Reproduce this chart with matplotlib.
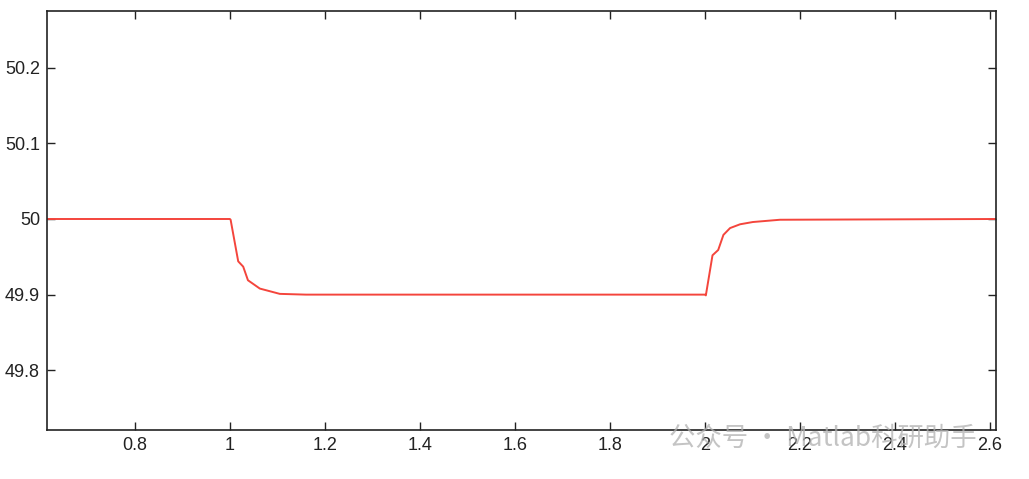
import matplotlib.pyplot as plt

plt.rcParams['font.family'] = ['Liberation Sans', 'Noto Sans CJK SC', 'DejaVu Sans']

# frequency trace (time in s, frequency in Hz)
time_s = [0.615, 1.0, 1.0015, 1.0175, 1.028, 1.038, 1.063, 1.105, 1.16,
          2.0, 2.002, 2.016, 2.028, 2.039, 2.053, 2.074, 2.101, 2.158, 2.613]
freq_hz = [50.0, 50.0, 49.999, 49.944, 49.937, 49.919, 49.908, 49.901, 49.9,
           49.9, 49.899, 49.952, 49.959, 49.979, 49.988, 49.993, 49.996, 49.999, 50.0]

x_ticks = [0.8, 1, 1.2, 1.4, 1.6, 1.8, 2, 2.2, 2.4, 2.6]
x_labels = ['0.8', '1', '1.2', '1.4', '1.6', '1.8', '2', '2.2', '2.4', '2.6']
y_ticks = [49.8, 49.9, 50, 50.1, 50.2]
y_labels = ['49.8', '49.9', '50', '50.1', '50.2']

fig = plt.figure(figsize=(10.29, 4.79), dpi=100)
ax = fig.add_axes([0.0457, 0.1023, 0.9223, 0.8747])
ax.plot(time_s, freq_hz, color='#f4453c', linewidth=1.4)

ax.set_xlim(0.615, 2.613)
ax.set_ylim(49.721, 50.275)
ax.set_xticks(x_ticks)
ax.set_xticklabels(x_labels)
ax.set_yticks(y_ticks)
ax.set_yticklabels(y_labels)
ax.tick_params(direction='in', length=6, width=1, top=True, right=True,
               labelsize=13, colors='#222222', pad=5)
for s in ax.spines.values():
    s.set_linewidth(1.2)
    s.set_color('#222222')

# watermark along the bottom right
fig.text(0.65, 0.085, '公众号 · Matlab科研助手', fontsize=19, color='#b0b0b0',
         alpha=0.75, family=['Noto Sans CJK SC', 'DejaVu Sans'], va='center')

fig.savefig('out.png', dpi=100)
